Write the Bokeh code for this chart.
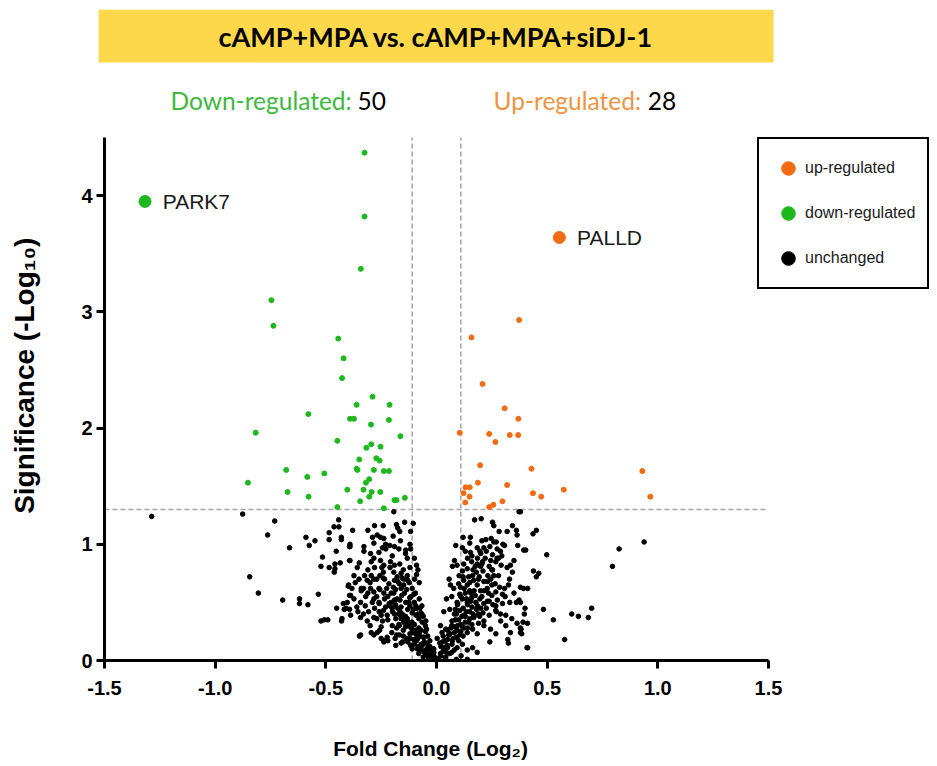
import math
from bokeh.plotting import figure
from bokeh.models import (Range1d, Label, Legend, LegendItem, BoxAnnotation, FixedTicker)
from bokeh.core.properties import value
from bokeh.embed import file_html
from bokeh.resources import INLINE

# ---------------- data ----------------
title_text = "cAMP+MPA vs. cAMP+MPA+siDJ-1"
down_count = 50
up_count = 28
x_title = "Fold Change (Log\u2082)"
y_title = "Significance (-Log\u2081\u2080)"

gene_names = ["PARK7", "PALLD"]
gene_x = [-1.317, 0.555]
gene_y = [3.95, 3.64]

down_x = [-0.325, -0.325, -0.342, -0.746, -0.737, -0.444, -0.420, -0.427, -0.289, -0.361,
          -0.212, -0.579, -0.391, -0.373, -0.215, -0.296, -0.817, -0.163, -0.448, -0.295,
          -0.317, -0.253, -0.349, -0.272, -0.257, -0.679, -0.361, -0.357, -0.283, -0.238,
          -0.215, -0.507, -0.584, -0.304, -0.852, -0.319, -0.403, -0.330, -0.673, -0.293,
          -0.254, -0.578, -0.304, -0.345, -0.190, -0.181, -0.143, -0.448, -0.238]
down_y = [4.37, 3.82, 3.37, 3.10, 2.88, 2.77, 2.60, 2.43, 2.27, 2.20,
          2.20, 2.12, 2.08, 2.08, 2.07, 2.03, 1.96, 1.93, 1.89, 1.86,
          1.83, 1.84, 1.73, 1.74, 1.72, 1.64, 1.65, 1.64, 1.64, 1.63,
          1.63, 1.61, 1.58, 1.56, 1.53, 1.53, 1.47, 1.47, 1.45, 1.45,
          1.45, 1.41, 1.41, 1.37, 1.38, 1.38, 1.40, 1.32, 1.31]

up_x = [0.373, 0.158, 0.208, 0.308, 0.370, 0.105, 0.238, 0.331, 0.369, 0.266,
        0.197, 0.429, 0.930, 0.131, 0.150, 0.187, 0.319, 0.122, 0.436, 0.575,
        0.149, 0.473, 0.966, 0.130, 0.298, 0.257, 0.238]
up_y = [2.93, 2.78, 2.38, 2.17, 2.08, 1.96, 1.95, 1.94, 1.94, 1.88,
        1.68, 1.65, 1.63, 1.49, 1.49, 1.53, 1.51, 1.44, 1.44, 1.47,
        1.41, 1.41, 1.41, 1.36, 1.37, 1.34, 1.32]

black_pts = [
    (-1.287, 1.24), (-0.876, 1.26), (-0.731, 1.20), (-0.763, 1.08), (-0.664, 0.97), (-0.844, 0.72),
    (-0.805, 0.58), (-0.695, 0.52), (-0.619, 0.53), (-0.619, 0.49), (-0.581, 0.48), (-0.534, 0.57),
    (-0.590, 1.06), (-0.575, 0.99), (-0.549, 1.03), (-0.515, 0.89), (-0.522, 0.81), (-0.485, 1.10),
    (-0.485, 1.04), (-0.442, 1.21), (-0.463, 1.15), (-0.441, 1.15), (-0.430, 1.06), (-0.430, 1.04),
    (-0.453, 0.94), (-0.485, 0.80), (-0.459, 0.83), (-0.459, 0.79), (-0.462, 0.76), (-0.435, 0.84),
    (-0.451, 0.45), (-0.421, 0.49), (-0.417, 0.44), (-0.408, 0.45), (-0.522, 0.34), (-0.507, 0.35),
    (-0.491, 0.35), (-0.429, 0.34), (-0.393, 0.98), (-0.393, 0.86), (-0.399, 0.64), (-0.393, 0.56),
    (-0.393, 0.44), (-0.348, 0.21), (-0.283, 0.22), (-0.257, 0.26), (-0.238, 0.17), (-0.220, 0.17),
    (-0.184, 0.13), (-0.313, 0.34), (-0.343, 0.37),
    (-0.193, 1.28), (-0.105, 1.18), (-0.379, 1.12), (-0.310, 1.12), (-0.280, 1.16), (-0.241, 1.16),
    (-0.181, 1.17), (-0.175, 1.14), (-0.144, 1.19), (-0.289, 1.06), (-0.268, 1.08), (-0.253, 1.06),
    (-0.238, 1.05), (-0.196, 1.07), (-0.166, 1.11), (-0.163, 1.03), (-0.117, 1.11), (-0.117, 0.96),
    (-0.391, 1.00), (-0.391, 0.98), (-0.328, 0.98), (-0.328, 0.94), (-0.283, 1.01), (-0.244, 0.97),
    (-0.229, 0.96), (-0.211, 0.99), (-0.190, 0.98), (-0.139, 0.95), (-0.132, 0.88), (-0.298, 0.92),
    (-0.283, 0.88), (-0.295, 0.85), (-0.391, 0.86), (-0.349, 0.84), (-0.358, 0.80), (-0.253, 0.86),
    (-0.238, 0.82), (-0.247, 0.80), (-0.208, 0.85), (-0.190, 0.82), (-0.166, 0.83), (-0.090, 0.82),
    (-0.084, 0.78), (-0.373, 0.73), (-0.367, 0.67), (-0.382, 0.62), (-0.397, 0.65), (-0.325, 0.73),
    (-0.313, 0.69), (-0.295, 0.73), (-0.283, 0.70), (-0.256, 0.73), (-0.241, 0.71), (-0.193, 0.76),
    (-0.178, 0.72), (-0.160, 0.75), (-0.148, 0.70), (-0.132, 0.73), (-0.168, 0.66), (-0.148, 0.65),
    (-0.123, 0.67), (-0.099, 0.70), (-0.078, 0.67), (-0.340, 0.62), (-0.298, 0.62), (-0.283, 0.59),
    (-0.256, 0.61), (-0.238, 0.58), (-0.388, 0.56), (-0.373, 0.53), (-0.403, 0.50), (-0.343, 0.50),
    (-0.322, 0.47), (-0.283, 0.53), (-0.259, 0.49), (-0.235, 0.53), (-0.214, 0.49), (-0.193, 0.58),
    (-0.178, 0.53), (-0.157, 0.56), (-0.139, 0.50), (-0.121, 0.54), (-0.102, 0.57), (-0.078, 0.53),
    (-0.093, 0.47), (-0.066, 0.47), (-0.427, 0.36), (-0.388, 0.39), (-0.355, 0.42), (-0.307, 0.42),
    (-0.283, 0.37), (-0.259, 0.42), (-0.244, 0.34), (-0.223, 0.39), (-0.199, 0.42), (-0.184, 0.36),
    (-0.163, 0.39), (-0.148, 0.33), (-0.168, 0.30), (-0.132, 0.36), (-0.111, 0.33), (-0.093, 0.39),
    (-0.063, 0.39), (-0.048, 0.34), (-0.343, 0.22), (-0.295, 0.24), (-0.268, 0.24), (-0.250, 0.19),
    (-0.238, 0.16), (-0.223, 0.20), (-0.202, 0.24), (-0.187, 0.19), (-0.168, 0.22), (-0.153, 0.16),
    (-0.135, 0.19), (-0.117, 0.13), (-0.102, 0.18), (-0.087, 0.10), (-0.069, 0.14), (-0.054, 0.07),
    (-0.039, 0.11), (-0.027, 0.04), (-0.012, 0.07), (-0.078, 0.24), (-0.057, 0.20),
    (-0.22, 0.55), (-0.19, 0.52), (-0.16, 0.46), (-0.13, 0.44), (-0.10, 0.50), (-0.07, 0.41),
    (-0.20, 0.45), (-0.17, 0.40), (-0.14, 0.38), (-0.11, 0.41), (-0.08, 0.36), (-0.05, 0.30),
    (-0.17, 0.31), (-0.14, 0.29), (-0.11, 0.27), (-0.08, 0.28), (-0.05, 0.25), (-0.15, 0.26),
    (-0.12, 0.23), (-0.09, 0.22), (-0.06, 0.20), (-0.03, 0.17), (-0.12, 0.19), (-0.09, 0.17),
    (-0.06, 0.15), (-0.03, 0.12), (-0.10, 0.14), (-0.08, 0.12), (-0.05, 0.09), (-0.02, 0.07),
    (-0.07, 0.09), (-0.05, 0.06), (-0.03, 0.05), (-0.01, 0.03), (-0.04, 0.04), (-0.02, 0.02),
    (-0.01, 0.01), (0.00, 0.02), (0.01, 0.01), (-0.13, 0.33), (-0.16, 0.36), (-0.19, 0.40),
    (-0.21, 0.47), (-0.24, 0.43), (-0.26, 0.50), (-0.12, 0.47), (-0.09, 0.45), (-0.06, 0.38),
    (-0.04, 0.21), (-0.07, 0.26), (-0.10, 0.31), (-0.18, 0.28), (-0.15, 0.21), (-0.13, 0.16),
    (-0.11, 0.10), (-0.08, 0.06), (-0.06, 0.03), (-0.03, 0.01), (-0.02, 0.10), (-0.04, 0.14),
    (-0.11, 0.62), (-0.13, 0.69), (-0.15, 0.78), (-0.12, 0.80), (-0.10, 0.88), (-0.14, 0.92),
    (-0.17, 0.96), (-0.12, 1.00), (-0.09, 0.74), (-0.16, 0.62), (-0.19, 0.69), (-0.21, 0.80),
    (-0.20, 0.90), (-0.23, 1.00), (-0.26, 0.93), (-0.28, 0.80), (-0.30, 0.67), (-0.33, 0.62),
    (-0.35, 0.70), (-0.31, 0.58), (-0.36, 0.46), (-0.33, 0.40), (-0.30, 0.30), (-0.27, 0.36),
    (-0.25, 0.29), (-0.23, 0.46), (-0.28, 0.45), (-0.26, 0.62),
    (-0.185, 0.48), (-0.165, 0.42), (-0.145, 0.35), (-0.125, 0.30), (-0.105, 0.24), (-0.085, 0.19),
    (-0.065, 0.13), (-0.045, 0.08), (-0.035, 0.02), (-0.205, 0.50), (-0.175, 0.45), (-0.155, 0.40),
    (-0.135, 0.33), (-0.115, 0.28), (-0.095, 0.26), (-0.075, 0.21), (-0.055, 0.16), (-0.025, 0.09),
    (-0.015, 0.05), (-0.225, 0.62), (-0.205, 0.58), (-0.185, 0.61), (-0.165, 0.52), (-0.145, 0.58),
    (-0.125, 0.50), (-0.105, 0.44), (-0.085, 0.40), (-0.065, 0.33), (-0.045, 0.27), (-0.235, 0.70),
    (-0.215, 0.66), (-0.195, 0.63), (-0.175, 0.68), (-0.155, 0.71), (-0.135, 0.61), (-0.115, 0.55),
    (-0.095, 0.58), (-0.075, 0.45), (-0.25, 0.39), (-0.27, 0.55), (-0.29, 0.50), (-0.32, 0.55),
    (-0.34, 0.60), (-0.31, 0.78), (-0.27, 0.70), (-0.24, 0.76), (-0.22, 0.35), (-0.20, 0.30),
    (-0.18, 0.22), (-0.16, 0.15),
    (0.373, 1.28), (0.172, 1.21), (0.202, 1.22), (0.253, 1.19), (0.259, 1.16), (0.283, 1.11),
    (0.319, 1.11), (0.343, 1.16), (0.361, 1.12), (0.364, 1.08), (0.120, 1.06), (0.153, 1.06),
    (0.205, 1.03), (0.223, 1.04), (0.247, 1.05), (0.259, 1.02), (0.241, 0.98), (0.087, 0.99),
    (0.117, 0.97), (0.130, 0.94), (0.150, 1.01), (0.153, 0.93), (0.184, 0.97), (0.196, 0.94),
    (0.214, 0.97), (0.274, 0.96), (0.289, 0.94), (0.307, 0.99), (0.367, 0.99), (0.394, 0.95),
    (0.253, 0.91), (0.274, 0.88), (0.295, 0.90), (0.081, 0.86), (0.093, 0.82), (0.072, 0.81),
    (0.123, 0.83), (0.139, 0.79), (0.117, 0.77), (0.159, 0.85), (0.175, 0.81), (0.184, 0.83),
    (0.199, 0.81), (0.208, 0.85), (0.238, 0.81), (0.253, 0.78), (0.268, 0.85), (0.292, 0.82),
    (0.319, 0.80), (0.334, 0.82), (0.343, 0.76), (0.057, 0.70), (0.102, 0.73), (0.123, 0.69),
    (0.163, 0.73), (0.168, 0.69), (0.193, 0.72), (0.214, 0.68), (0.232, 0.73), (0.259, 0.73),
    (0.280, 0.73), (0.063, 0.65), (0.078, 0.62), (0.108, 0.63), (0.139, 0.65), (0.150, 0.60),
    (0.184, 0.65), (0.199, 0.60), (0.229, 0.62), (0.250, 0.65), (0.268, 0.59), (0.307, 0.62),
    (0.325, 0.65), (0.298, 0.57), (0.379, 0.63), (0.412, 0.62), (0.045, 0.53), (0.069, 0.55),
    (0.093, 0.50), (0.117, 0.53), (0.139, 0.50), (0.159, 0.54), (0.178, 0.50), (0.196, 0.53),
    (0.214, 0.49), (0.238, 0.51), (0.268, 0.47), (0.298, 0.49), (0.331, 0.50), (0.361, 0.50),
    (0.373, 0.52), (0.033, 0.42), (0.060, 0.44), (0.081, 0.40), (0.105, 0.43), (0.123, 0.39),
    (0.150, 0.42), (0.168, 0.37), (0.190, 0.40), (0.214, 0.34), (0.238, 0.39), (0.268, 0.43),
    (0.289, 0.40), (0.313, 0.39), (0.340, 0.36), (0.397, 0.40), (0.364, 0.32), (0.018, 0.30),
    (0.042, 0.27), (0.069, 0.30), (0.093, 0.26), (0.117, 0.29), (0.139, 0.24), (0.163, 0.27),
    (0.184, 0.23), (0.214, 0.30), (0.244, 0.27), (0.268, 0.23), (0.313, 0.30), (0.334, 0.24),
    (0.382, 0.27), (0.385, 0.23), (0.241, 0.16), (0.322, 0.18), (0.325, 0.15), (0.409, 0.11),
    (0.003, 0.19), (0.027, 0.16), (0.048, 0.13), (0.072, 0.17), (0.093, 0.11), (0.117, 0.14),
    (0.139, 0.09), (0.163, 0.11), (0.184, 0.07), (-0.012, 0.10), (0.018, 0.06), (0.042, 0.03),
    (0.069, 0.07), (0.090, 0.01), (0.111, 0.04), (0.139, 0.01),
    (0.379, 1.28), (0.436, 1.09), (0.451, 1.12), (0.403, 0.95), (0.498, 0.91), (0.438, 0.77),
    (0.462, 0.75), (0.451, 0.72), (0.393, 0.62), (0.795, 0.81), (0.825, 0.96), (0.938, 1.02),
    (0.379, 0.50), (0.400, 0.45), (0.483, 0.44), (0.391, 0.33), (0.411, 0.32), (0.528, 0.35),
    (0.611, 0.40), (0.641, 0.38), (0.686, 0.37), (0.701, 0.45), (0.579, 0.18), (0.412, 0.11),
    (0.379, 0.28), (0.379, 0.24),
    (0.02, 0.04), (0.03, 0.08), (0.04, 0.02), (0.05, 0.11), (0.06, 0.06), (0.07, 0.14),
    (0.08, 0.09), (0.09, 0.20), (0.10, 0.17), (0.11, 0.25), (0.12, 0.21), (0.13, 0.33),
    (0.14, 0.28), (0.15, 0.36), (0.16, 0.31), (0.04, 0.17), (0.06, 0.23), (0.08, 0.29),
    (0.10, 0.35), (0.12, 0.45), (0.14, 0.48), (0.16, 0.46), (0.18, 0.44), (0.20, 0.45),
    (0.09, 0.40), (0.07, 0.34), (0.05, 0.26), (0.03, 0.21), (0.11, 0.55), (0.13, 0.58),
    (0.15, 0.67), (0.17, 0.60), (0.19, 0.70), (0.21, 0.77), (0.23, 0.68), (0.10, 0.66),
    (0.12, 0.72), (0.14, 0.88), (0.16, 0.90), (0.18, 0.76), (0.20, 0.92), (0.22, 0.88),
    (0.02, 0.12), (0.05, 0.18), (0.08, 0.24), (0.11, 0.31), (0.13, 0.38), (0.17, 0.38),
    (0.19, 0.32), (0.21, 0.41), (0.23, 0.51), (0.25, 0.56), (0.27, 0.42), (0.29, 0.34),
    (0.31, 0.55), (0.33, 0.70), (0.35, 0.58), (0.25, 0.78), (0.28, 0.88), (0.30, 1.00),
    (0.27, 1.02), (0.35, 0.86),
    (0.015, 0.15), (0.025, 0.24), (0.035, 0.11), (0.045, 0.07), (0.055, 0.22), (0.065, 0.28),
    (0.075, 0.19), (0.085, 0.35), (0.095, 0.30), (0.105, 0.22), (0.115, 0.38), (0.125, 0.28),
    (0.135, 0.42), (0.145, 0.33), (0.155, 0.51), (0.165, 0.40), (0.175, 0.56), (0.185, 0.47),
    (0.195, 0.38), (0.205, 0.55), (0.215, 0.60), (0.225, 0.45), (0.235, 0.58), (0.245, 0.70),
    (0.255, 0.48), (0.265, 0.66), (0.275, 0.52), (0.285, 0.63), (0.095, 0.48), (0.105, 0.57),
    (0.085, 0.44), (0.125, 0.62), (0.145, 0.72), (0.165, 0.78), (0.185, 0.88), (0.205, 0.83),
    (0.225, 0.94), (0.245, 0.86), (0.135, 0.53), (0.155, 0.58),
]
black_x = [p[0] for p in black_pts]
black_y = [p[1] for p in black_pts]

x_ticks = [-1.5, -1.0, -0.5, 0.0, 0.5, 1.0, 1.5]
y_ticks = [0, 1, 2, 3, 4]
x_lim = (-1.5, 1.5)
y_lim = (0, 4.5)
fc_cut = 0.11
p_cut = 1.30

GREEN = "#1DB81D"
ORANGE = "#F26A12"
FONT = "Liberation Sans"

# ---------------- figure ----------------
# The frame covers the whole page (so banner, counts and legend are not clipped);
# the two axes are pinned at x=-1.5 / y=0 and bounded to the data limits.
p = figure(width=937, height=766, output_backend="svg", toolbar_location=None,
           x_range=Range1d(-1.970, 2.2636), y_range=Range1d(-0.912, 5.679),
           min_border_left=0, min_border_right=0, min_border_top=0,
           min_border_bottom=0)
p.outline_line_color = None
p.grid.visible = False
p.background_fill_color = "white"

for ax in (p.xaxis[0], p.yaxis[0]):
    ax.axis_line_width = 3
    ax.major_tick_line_width = 3
    ax.major_tick_out = 8
    ax.major_tick_in = 0
    ax.minor_tick_line_color = None
    ax.major_label_text_font = FONT
    ax.major_label_text_font_style = "bold"
    ax.major_label_text_font_size = "20px"
    ax.major_label_text_color = "black"

p.xaxis.fixed_location = y_lim[0]
p.yaxis.fixed_location = x_lim[0]
p.xaxis.bounds = x_lim
p.yaxis.bounds = y_lim
p.xaxis.ticker = FixedTicker(ticks=x_ticks)
p.yaxis.ticker = FixedTicker(ticks=y_ticks)
p.xaxis.major_label_overrides = {t: f"{t:.1f}" for t in x_ticks}
p.xaxis.major_label_standoff = 12
p.yaxis.major_label_standoff = 4

# axis titles
p.add_layout(Label(x=-0.027, y=-0.757, text=x_title, text_align="center",
                   text_baseline="middle", text_font=FONT, text_font_style="bold",
                   text_font_size="21px", text_color="black"))
p.add_layout(Label(x=-1.862, y=2.45, text=y_title, angle=math.pi / 2,
                   text_align="center", text_baseline="middle", text_font=FONT,
                   text_font_style="bold", text_font_size="28px", text_color="black"))

# threshold lines (limited to the axis extent)
p.segment(x0=[-fc_cut, fc_cut, x_lim[0]], y0=[y_lim[0], y_lim[0], p_cut],
          x1=[-fc_cut, fc_cut, x_lim[1]], y1=[y_lim[1], y_lim[1], p_cut],
          line_color="#A4A4A4", line_dash="5 3", line_width=1.5)

r_black = p.scatter(black_x, black_y, size=4.6, color="black")
r_down = p.scatter(down_x, down_y, size=5, color=GREEN)
r_up = p.scatter(up_x, up_y, size=5, color=ORANGE)
gene_colors = [GREEN, ORANGE]
p.scatter(gene_x, gene_y, size=12, color=gene_colors)
p.text([gx + 0.08 for gx in gene_x], gene_y, text=gene_names, text_font=value(FONT),
       text_font_size="21px", text_baseline="middle", text_color="#1A1A1A")

# legend
legend = Legend(items=[LegendItem(label="up-regulated", renderers=[r_up]),
                       LegendItem(label="down-regulated", renderers=[r_down]),
                       LegendItem(label="unchanged", renderers=[r_black])],
                location=(757, 477), margin=0, padding=12, spacing=11,
                glyph_width=34, glyph_height=34, label_standoff=0,
                label_text_font=FONT, label_text_font_size="16px",
                label_text_color="#1A1A1A",
                border_line_color="black", border_line_width=2, border_line_alpha=1,
                background_fill_color="white", background_fill_alpha=1)
p.add_layout(legend)

# title banner
p.add_layout(BoxAnnotation(left=-1.527, right=1.523, bottom=5.146, top=5.60,
                           fill_color="#FDD84B", fill_alpha=1,
                           line_color="#F5E7A8", line_dash="2 2", line_width=1.5))
p.add_layout(Label(x=-0.002, y=5.37, text=title_text, text_align="center",
                   text_baseline="middle", text_font="Lato", text_font_style="bold",
                   text_font_size="27px", text_color="black"))

# counts
p.add_layout(Label(x=-1.202, y=4.818, text="Down-regulated:", text_baseline="middle",
                   text_font="Lato", text_font_size="24.5px", text_color="#3DB93D"))
p.add_layout(Label(x=-0.357, y=4.818, text=str(down_count), text_baseline="middle",
                   text_font="Lato", text_font_size="24.5px", text_color="black"))
p.add_layout(Label(x=0.2575, y=4.818, text="Up-regulated:", text_baseline="middle",
                   text_font="Lato", text_font_size="24.5px", text_color="#EE9440"))
p.add_layout(Label(x=0.955, y=4.818, text=str(up_count), text_baseline="middle",
                   text_font="Lato", text_font_size="24.5px", text_color="black"))

open("out.html", "w").write(file_html(p, INLINE))
